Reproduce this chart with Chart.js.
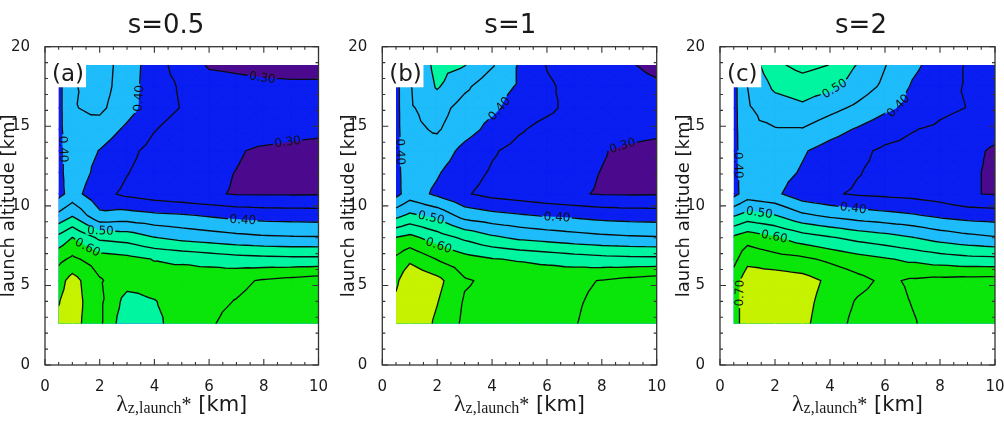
<!DOCTYPE html>
<html><head><meta charset="utf-8">
<script src="https://cdn.jsdelivr.net/npm/chart.js@4.4.1/dist/chart.umd.min.js"></script>
<style>
html,body{margin:0;padding:0;background:#fff;width:1004px;height:426px;overflow:hidden;position:relative}
canvas{position:absolute;top:0}
</style></head><body>
<canvas id="ca" width="342" height="426" style="left:-1px"></canvas>
<canvas id="cb" width="340" height="426" style="left:339px"></canvas>
<canvas id="cc" width="340" height="426" style="left:674px"></canvas>
<script>
// ---------- data ----------
const lambdaGrid = [0.5, 1, 2, 3, 4, 5, 6, 7, 8, 9, 10];                 // λz,launch* [km]
const altitudeGrid = [2.6, 3.95, 5.3, 6.65, 8.0, 9.4, 10.75, 12.1, 13.45, 14.8, 16.15, 17.5, 18.85]; // launch altitude [km]
const contourLevels = [0.30, 0.35, 0.40, 0.45, 0.50, 0.55, 0.60, 0.65, 0.70];
const fillThresholds = [0.30, 0.40, 0.50, 0.60, 0.70];
const panelTitles = ['s=0.5', 's=1', 's=2'];
const panelTags = ['(a)', '(b)', '(c)'];
const xTickLabels = [0, 2, 4, 6, 8, 10];
const yTickLabels = [0, 5, 10, 15, 20];

// rows: altitudeGrid (bottom -> top), columns: lambdaGrid
const ratioS05 = [
  [0.71, 0.72, 0.66, 0.56, 0.585, 0.63, 0.645, 0.665, 0.675, 0.68, 0.685],
  [0.698, 0.725, 0.66, 0.58, 0.597, 0.625, 0.64, 0.652, 0.665, 0.675, 0.68],
  [0.68, 0.72, 0.655, 0.62, 0.62, 0.63, 0.635, 0.64, 0.655, 0.665, 0.675],
  [0.637, 0.66, 0.625, 0.615, 0.598, 0.59, 0.58, 0.57, 0.565, 0.562, 0.562],
  [0.565, 0.601, 0.54, 0.53, 0.502, 0.485, 0.475, 0.465, 0.458, 0.455, 0.454],
  [0.462, 0.495, 0.412, 0.42, 0.41, 0.405, 0.395, 0.385, 0.38, 0.378, 0.376],
  [0.385, 0.42, 0.365, 0.34, 0.325, 0.315, 0.305, 0.297, 0.296, 0.296, 0.297],
  [0.385, 0.43, 0.385, 0.352, 0.33, 0.32, 0.31, 0.299, 0.285, 0.28, 0.275],
  [0.385, 0.43, 0.398, 0.362, 0.335, 0.325, 0.315, 0.305, 0.29, 0.28, 0.27],
  [0.385, 0.44, 0.43, 0.39, 0.352, 0.33, 0.33, 0.33, 0.33, 0.325, 0.32],
  [0.385, 0.447, 0.46, 0.42, 0.37, 0.348, 0.34, 0.335, 0.33, 0.33, 0.335],
  [0.385, 0.445, 0.47, 0.425, 0.37, 0.345, 0.32, 0.315, 0.31, 0.31, 0.31],
  [0.385, 0.445, 0.47, 0.43, 0.37, 0.33, 0.295, 0.29, 0.285, 0.28, 0.28]
];
const ratioS1 = [
  [0.715, 0.745, 0.69, 0.64, 0.635, 0.635, 0.64, 0.648, 0.665, 0.675, 0.68],
  [0.71, 0.745, 0.702, 0.645, 0.635, 0.635, 0.638, 0.645, 0.66, 0.672, 0.678],
  [0.69, 0.74, 0.715, 0.655, 0.64, 0.64, 0.64, 0.642, 0.652, 0.665, 0.675],
  [0.66, 0.69, 0.648, 0.62, 0.603, 0.595, 0.585, 0.575, 0.567, 0.563, 0.562],
  [0.602, 0.615, 0.575, 0.54, 0.51, 0.49, 0.48, 0.47, 0.462, 0.457, 0.454],
  [0.485, 0.51, 0.485, 0.43, 0.415, 0.405, 0.395, 0.39, 0.382, 0.378, 0.376],
  [0.385, 0.425, 0.39, 0.355, 0.335, 0.325, 0.315, 0.304, 0.297, 0.296, 0.297],
  [0.385, 0.43, 0.405, 0.37, 0.345, 0.33, 0.32, 0.31, 0.299, 0.29, 0.285],
  [0.385, 0.435, 0.43, 0.385, 0.355, 0.335, 0.325, 0.315, 0.303, 0.29, 0.28],
  [0.385, 0.44, 0.455, 0.42, 0.385, 0.355, 0.335, 0.325, 0.325, 0.32, 0.315],
  [0.385, 0.445, 0.47, 0.43, 0.41, 0.375, 0.36, 0.335, 0.33, 0.33, 0.33],
  [0.385, 0.447, 0.505, 0.46, 0.42, 0.395, 0.355, 0.34, 0.325, 0.32, 0.31],
  [0.385, 0.45, 0.515, 0.502, 0.455, 0.395, 0.348, 0.335, 0.32, 0.305, 0.285]
];
const ratioS2 = [
  [0.675, 0.735, 0.735, 0.71, 0.675, 0.635, 0.625, 0.646, 0.67, 0.675, 0.68],
  [0.675, 0.735, 0.735, 0.715, 0.68, 0.645, 0.63, 0.652, 0.668, 0.672, 0.675],
  [0.675, 0.73, 0.73, 0.72, 0.69, 0.665, 0.64, 0.657, 0.665, 0.668, 0.67],
  [0.635, 0.685, 0.67, 0.66, 0.64, 0.62, 0.605, 0.59, 0.575, 0.565, 0.562],
  [0.61, 0.63, 0.605, 0.575, 0.555, 0.535, 0.52, 0.502, 0.48, 0.465, 0.454],
  [0.495, 0.52, 0.502, 0.46, 0.44, 0.425, 0.415, 0.405, 0.39, 0.38, 0.376],
  [0.385, 0.425, 0.41, 0.37, 0.355, 0.345, 0.34, 0.335, 0.325, 0.303, 0.297],
  [0.385, 0.43, 0.42, 0.395, 0.37, 0.352, 0.34, 0.335, 0.325, 0.31, 0.29],
  [0.385, 0.435, 0.43, 0.405, 0.38, 0.36, 0.342, 0.338, 0.33, 0.315, 0.292],
  [0.385, 0.44, 0.447, 0.447, 0.42, 0.395, 0.37, 0.352, 0.342, 0.33, 0.32],
  [0.385, 0.445, 0.475, 0.49, 0.465, 0.44, 0.41, 0.385, 0.36, 0.349, 0.335],
  [0.385, 0.45, 0.51, 0.525, 0.51, 0.475, 0.44, 0.395, 0.37, 0.345, 0.335],
  [0.385, 0.465, 0.54, 0.565, 0.549, 0.497, 0.452, 0.41, 0.38, 0.345, 0.335]
];

// contour labels: level text and approximate anchor (data units)
const labelsS05 = [
  {text: '0.30', x: 7.96, y: 18.28}, {text: '0.30', x: 8.87, y: 14.03},
  {text: '0.40', x: 3.44, y: 16.75}, {text: '0.40', x: 0.9, y: 13.6},
  {text: '0.40', x: 7.23, y: 9.05}, {text: '0.50', x: 2.03, y: 8.48},
  {text: '0.60', x: 1.54, y: 7.33}
];
const labelsS1 = [
  {text: '0.40', x: 4.39, y: 15.91}, {text: '0.40', x: 0.71, y: 13.4},
  {text: '0.30', x: 8.76, y: 13.71}, {text: '0.40', x: 6.36, y: 9.1},
  {text: '0.50', x: 1.8, y: 9.42}, {text: '0.60', x: 2.04, y: 7.43}
];
const labelsS2 = [
  {text: '0.50', x: 4.18, y: 17.32}, {text: '0.40', x: 6.51, y: 16.23},
  {text: '0.40', x: 0.81, y: 12.56}, {text: '0.50', x: 1.44, y: 9.69},
  {text: '0.40', x: 4.84, y: 9.8}, {text: '0.60', x: 1.99, y: 8.17},
  {text: '0.70', x: 0.9, y: 4.5}
];

// ---------- styles ----------
const bandColors = ['#4b0a8e', '#0a1ef2', '#1ebcfa', '#00f5a0', '#0ae60a', '#c6f200'];
const SANS = "'DejaVu Sans', sans-serif";
const SERIF = "'Liberation Serif', 'DejaVu Serif', serif";
const INK = '#1a1a1a';

function clipAbove(tri, t) {
  const out = [];
  for (let e = 0; e < 3; e++) {
    const p = tri[e], q = tri[(e + 1) % 3];
    const pa = p[2] >= t, qa = q[2] >= t;
    if (pa) out.push(p);
    if (pa !== qa) {
      const s = (t - p[2]) / (q[2] - p[2]);
      out.push([p[0] + s * (q[0] - p[0]), p[1] + s * (q[1] - p[1]), t]);
    }
  }
  return out;
}

function bilinear(values, x, y) {
  const nx = lambdaGrid.length, ny = altitudeGrid.length;
  x = Math.min(Math.max(x, lambdaGrid[0]), lambdaGrid[nx - 1]);
  y = Math.min(Math.max(y, altitudeGrid[0]), altitudeGrid[ny - 1]);
  let i = 0; while (i < nx - 2 && x > lambdaGrid[i + 1]) i++;
  let j = 0; while (j < ny - 2 && y > altitudeGrid[j + 1]) j++;
  const u = (x - lambdaGrid[i]) / (lambdaGrid[i + 1] - lambdaGrid[i]);
  const w = (y - altitudeGrid[j]) / (altitudeGrid[j + 1] - altitudeGrid[j]);
  return values[j][i] * (1 - u) * (1 - w) + values[j][i + 1] * u * (1 - w) +
         values[j + 1][i] * (1 - u) * w + values[j + 1][i + 1] * u * w;
}

function makePanel(canvasId, values, labels, title, tag, geom) {
  const plugin = {
    id: 'contourPanel',
    afterDraw(chart) {
      const ctx = chart.ctx, ca = chart.chartArea, xs = chart.scales.x, ys = chart.scales.y;
      const X = v => xs.getPixelForValue(v), Y = v => ys.getPixelForValue(v);
      const nx = lambdaGrid.length, ny = altitudeGrid.length;
      const tris = [];
      for (let j = 0; j < ny - 1; j++) for (let i = 0; i < nx - 1; i++) {
        const a = [X(lambdaGrid[i]), Y(altitudeGrid[j]), values[j][i]];
        const b = [X(lambdaGrid[i + 1]), Y(altitudeGrid[j]), values[j][i + 1]];
        const c = [X(lambdaGrid[i + 1]), Y(altitudeGrid[j + 1]), values[j + 1][i + 1]];
        const d = [X(lambdaGrid[i]), Y(altitudeGrid[j + 1]), values[j + 1][i]];
        const m = [(a[0] + b[0]) / 2, (a[1] + d[1]) / 2, (a[2] + b[2] + c[2] + d[2]) / 4];
        tris.push([a, b, m], [b, c, m], [c, d, m], [d, a, m]);
      }
      const L = X(lambdaGrid[0]), R = X(lambdaGrid[nx - 1]);
      const T = Y(altitudeGrid[ny - 1]), B = Y(altitudeGrid[0]);

      ctx.save();
      ctx.beginPath(); ctx.rect(L, T, R - L, B - T); ctx.clip();
      ctx.fillStyle = bandColors[0]; ctx.fillRect(L, T, R - L, B - T);
      fillThresholds.forEach((t, k) => {
        ctx.beginPath();
        for (const tri of tris) {
          const poly = clipAbove(tri, t);
          if (poly.length < 3) continue;
          ctx.moveTo(poly[0][0], poly[0][1]);
          for (let q = 1; q < poly.length; q++) ctx.lineTo(poly[q][0], poly[q][1]);
          ctx.closePath();
        }
        ctx.fillStyle = bandColors[k + 1]; ctx.fill();
        ctx.strokeStyle = bandColors[k + 1]; ctx.lineWidth = 0.7; ctx.lineJoin = 'round'; ctx.stroke();
      });

      // label placement: snap to the contour of its level
      const F = (px, py) => bilinear(values, xs.getValueForPixel(px), ys.getValueForPixel(py));
      ctx.font = '12px ' + SANS;
      const placed = labels.map(lb => {
        const lev = parseFloat(lb.text);
        const p0 = [X(lb.x), Y(lb.y)];
        let p = p0.slice(), gx = 0, gy = 0;
        for (let it = 0; it < 10; it++) {
          const f0 = F(p[0], p[1]) - lev;
          gx = F(p[0] + 0.5, p[1]) - F(p[0] - 0.5, p[1]);
          gy = F(p[0], p[1] + 0.5) - F(p[0], p[1] - 0.5);
          const g2 = gx * gx + gy * gy;
          if (g2 < 1e-14) break;
          let sx = -f0 * gx / g2, sy = -f0 * gy / g2;
          const sl = Math.hypot(sx, sy);
          if (sl > 4) { sx *= 4 / sl; sy *= 4 / sl; }
          p = [p[0] + sx, p[1] + sy];
        }
        if (Math.hypot(p[0] - p0[0], p[1] - p0[1]) > 16) p = p0;
        let ang = Math.atan2(gx, -gy);
        if (ang > Math.PI / 2 + 0.01) ang -= Math.PI;
        if (ang <= -Math.PI / 2 + 0.01) ang += Math.PI;
        return {text: lb.text, x: p[0], y: p[1], a: ang, w: ctx.measureText(lb.text).width};
      });

      // contour lines with gaps at labels
      ctx.save();
      ctx.beginPath();
      ctx.rect(0, 0, chart.width, chart.height);
      for (const lp of placed) {
        const hw = lp.w / 2 + 1.5, hh = 4.5, cs = Math.cos(lp.a), sn = Math.sin(lp.a);
        const pts = [[-hw, -hh], [hw, -hh], [hw, hh], [-hw, hh]].map(([u, v]) => [lp.x + u * cs - v * sn, lp.y + u * sn + v * cs]);
        ctx.moveTo(pts[0][0], pts[0][1]);
        for (let q = 1; q < 4; q++) ctx.lineTo(pts[q][0], pts[q][1]);
        ctx.closePath();
      }
      ctx.clip('evenodd');
      ctx.beginPath();
      for (const lev of contourLevels) for (const tri of tris) {
        const pts = [];
        for (let e = 0; e < 3; e++) {
          const p = tri[e], q = tri[(e + 1) % 3];
          if ((p[2] >= lev) !== (q[2] >= lev)) {
            const s = (lev - p[2]) / (q[2] - p[2]);
            pts.push([p[0] + s * (q[0] - p[0]), p[1] + s * (q[1] - p[1])]);
          }
        }
        if (pts.length === 2) { ctx.moveTo(pts[0][0], pts[0][1]); ctx.lineTo(pts[1][0], pts[1][1]); }
      }
      ctx.strokeStyle = '#0d0d0d'; ctx.lineWidth = 1.35; ctx.lineCap = 'round'; ctx.stroke();
      ctx.restore();

      // label text
      ctx.fillStyle = '#111'; ctx.font = '12px ' + SANS; ctx.textAlign = 'center'; ctx.textBaseline = 'middle';
      for (const lp of placed) {
        ctx.save(); ctx.translate(lp.x, lp.y); ctx.rotate(lp.a); ctx.fillText(lp.text, 0, 0.5); ctx.restore();
      }
      ctx.restore();

      // panel tag box
      ctx.save();
      ctx.fillStyle = '#fff';
      ctx.fillRect(ca.left + 0.5, ca.top + 0.5, X(1.5) - ca.left - 0.5, Y(17.45) - ca.top - 0.5);
      ctx.fillStyle = INK; ctx.font = '23px ' + SANS; ctx.textAlign = 'left'; ctx.textBaseline = 'alphabetic';
      ctx.fillText(tag, ca.left + 7, 81);

      // frame + inward ticks
      ctx.strokeStyle = '#333'; ctx.lineWidth = 1.3;
      ctx.strokeRect(ca.left, ca.top, ca.right - ca.left, ca.bottom - ca.top);
      ctx.beginPath();
      for (let k = 0; k <= 20; k++) {
        const v = k * 0.5, len = k % 4 === 0 ? 6 : 3, px = X(v);
        ctx.moveTo(px, ca.bottom); ctx.lineTo(px, ca.bottom - len);
        ctx.moveTo(px, ca.top); ctx.lineTo(px, ca.top + len);
      }
      for (let k = 0; k <= 20; k++) {
        const len = k % 5 === 0 ? 6 : 3, py = Y(k);
        ctx.moveTo(ca.left, py); ctx.lineTo(ca.left + len, py);
        ctx.moveTo(ca.right, py); ctx.lineTo(ca.right - len, py);
      }
      ctx.lineWidth = 1.1; ctx.stroke();

      // title
      ctx.fillStyle = INK; ctx.font = '26px ' + SANS; ctx.textAlign = 'center'; ctx.textBaseline = 'alphabetic';
      ctx.fillText(title, ca.left + geom.titleOffset, 33);

      // x-axis title: λ_{z,launch}* [km]
      const parts = [
        {t: 'λ', f: '24px ' + SERIF, dy: 0},
        {t: 'z,launch', f: '16px ' + SERIF, dy: 2},
        {t: '*', f: '20px ' + SERIF, dy: 0},
        {t: ' [km]', f: '21px ' + SANS, dy: 0}
      ];
      let tw = 0;
      parts.forEach(p => { ctx.font = p.f; p.w = ctx.measureText(p.t).width; tw += p.w; });
      let xx = (ca.left + ca.right) / 2 - tw / 2;
      ctx.textAlign = 'left';
      parts.forEach(p => { ctx.font = p.f; ctx.fillText(p.t, xx, 411 + p.dy); xx += p.w; });
      ctx.restore();
    }
  };

  return new Chart(document.getElementById(canvasId), {
    type: 'scatter',
    data: {datasets: []},
    options: {
      responsive: false, animation: false, devicePixelRatio: 1, events: [],
      layout: {padding: {top: 46.7, right: geom.padRight, bottom: 0, left: 0}},
      plugins: {legend: {display: false}, tooltip: {enabled: false}, title: {display: false}},
      scales: {
        x: {
          type: 'linear', position: 'bottom', min: 0, max: 10,
          afterBuildTicks: s => { s.ticks = xTickLabels.map(v => ({value: v})); },
          afterFit: s => { s.height = 61; },
          grid: {display: false}, border: {display: false},
          ticks: {color: INK, font: {family: SANS, size: 15}, padding: 5, maxRotation: 0, autoSkip: false}
        },
        y: {
          type: 'linear', position: 'left', min: 0, max: 20,
          afterBuildTicks: s => { s.ticks = yTickLabels.map(v => ({value: v})); },
          afterFit: s => { s.width = geom.yWidth; },
          grid: {display: false}, border: {display: false},
          ticks: {color: INK, font: {family: SANS, size: 15}, padding: 7, autoSkip: false},
          title: {display: true, text: 'launch altitude [km]', color: INK, font: {family: SANS, size: 18}, padding: {top: 0, bottom: 0}}
        }
      }
    },
    plugins: [plugin]
  });
}

makePanel('ca', ratioS05, labelsS05, panelTitles[0], panelTags[0], {yWidth: 46, padRight: 22.5, titleOffset: 121});
makePanel('cb', ratioS1, labelsS1, panelTitles[1], panelTags[1], {yWidth: 43.3, padRight: 22.3, titleOffset: 128});
makePanel('cc', ratioS2, labelsS2, panelTitles[2], panelTags[2], {yWidth: 46, padRight: 19, titleOffset: 141});
</script>
</body></html>
